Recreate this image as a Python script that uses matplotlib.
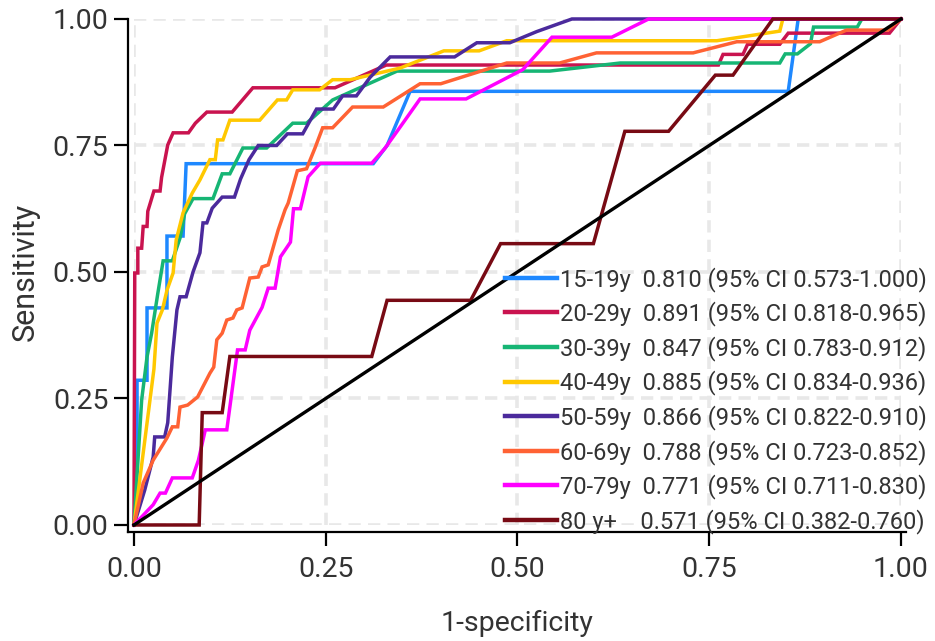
import matplotlib
matplotlib.use('Agg')

from matplotlib import pyplot as plt
import numpy as np


# ROC curves (1-specificity, sensitivity)
groups = ['15-19y', '20-29y', '30-39y', '40-49y', '50-59y', '60-69y', '70-79y', '80 y+']
auc = [0.810, 0.891, 0.847, 0.885, 0.866, 0.788, 0.771, 0.571]
ci_lo = [0.573, 0.818, 0.783, 0.834, 0.822, 0.723, 0.711, 0.382]
ci_hi = [1.000, 0.965, 0.912, 0.936, 0.910, 0.852, 0.830, 0.760]

fpr_15_19 = [0, 0.004, 0.004, 0.017, 0.017, 0.043, 0.043, 0.064, 0.068, 0.312,
             0.33, 0.36, 0.853, 0.866, 1.0]
tpr_15_19 = [0, 0.143, 0.286, 0.286, 0.429, 0.429, 0.571, 0.571, 0.714, 0.714,
             0.75, 0.857, 0.857, 1.0, 1.0]

fpr_20_29 = [0, 0.001, 0.005, 0.005, 0.010, 0.012, 0.017, 0.018, 0.026, 0.034,
             0.036, 0.044, 0.051, 0.071, 0.080, 0.095, 0.128, 0.155, 0.262, 0.329,
             0.762, 0.768, 0.794, 0.800, 0.842, 0.853, 0.985, 1.0]
tpr_20_29 = [0, 0.498, 0.498, 0.547, 0.547, 0.590, 0.590, 0.620, 0.660, 0.660,
             0.687, 0.751, 0.775, 0.775, 0.794, 0.816, 0.816, 0.864, 0.864, 0.909,
             0.909, 0.930, 0.930, 0.950, 0.950, 0.972, 0.972, 1.0]

fpr_30_39 = [0, 0.010, 0.017, 0.023, 0.031, 0.038, 0.050, 0.060, 0.066, 0.077,
             0.103, 0.115, 0.125, 0.142, 0.173, 0.207, 0.225, 0.259, 0.343, 0.542,
             0.634, 0.842, 0.849, 0.865, 0.882, 0.886, 0.943, 0.949, 1.0]
tpr_30_39 = [0, 0.247, 0.332, 0.379, 0.457, 0.522, 0.522, 0.567, 0.615, 0.645,
             0.645, 0.694, 0.694, 0.745, 0.745, 0.794, 0.794, 0.840, 0.897, 0.897,
             0.913, 0.913, 0.931, 0.931, 0.951, 0.984, 0.984, 1.0, 1.0]

fpr_40_49 = [0, 0.026, 0.030, 0.037, 0.043, 0.051, 0.055, 0.064, 0.076, 0.086,
             0.099, 0.106, 0.109, 0.116, 0.125, 0.164, 0.187, 0.199, 0.207, 0.242,
             0.259, 0.282, 0.347, 0.404, 0.450, 0.486, 0.760, 0.842, 0.846, 1.0]
tpr_40_49 = [0, 0.308, 0.399, 0.425, 0.464, 0.498, 0.563, 0.617, 0.656, 0.682,
             0.722, 0.722, 0.761, 0.761, 0.800, 0.800, 0.840, 0.840, 0.860, 0.860,
             0.880, 0.880, 0.903, 0.937, 0.937, 0.957, 0.957, 0.976, 1.0, 1.0]

fpr_50_59 = [0, 0.014, 0.025, 0.027, 0.040, 0.044, 0.050, 0.056, 0.060, 0.068,
             0.077, 0.086, 0.090, 0.095, 0.102, 0.115, 0.131, 0.139, 0.150, 0.162,
             0.186, 0.200, 0.220, 0.238, 0.260, 0.272, 0.290, 0.308, 0.334, 0.418,
             0.447, 0.490, 0.525, 0.571, 1.0]
tpr_50_59 = [0, 0.069, 0.134, 0.174, 0.174, 0.202, 0.332, 0.425, 0.451, 0.451,
             0.500, 0.538, 0.597, 0.597, 0.626, 0.648, 0.648, 0.684, 0.722, 0.750,
             0.750, 0.773, 0.773, 0.822, 0.822, 0.848, 0.848, 0.885, 0.925, 0.925,
             0.953, 0.953, 0.975, 1.0, 1.0]

fpr_60_69 = [0, 0.012, 0.025, 0.043, 0.050, 0.057, 0.060, 0.070, 0.083, 0.099,
             0.104, 0.108, 0.115, 0.121, 0.129, 0.134, 0.141, 0.151, 0.162, 0.167,
             0.175, 0.188, 0.197, 0.201, 0.213, 0.225, 0.236, 0.246, 0.259, 0.285,
             0.325, 0.373, 0.400, 0.486, 0.555, 0.603, 0.729, 0.786, 0.894, 0.929,
             0.983, 1.0]
tpr_60_69 = [0, 0.083, 0.128, 0.172, 0.194, 0.194, 0.233, 0.237, 0.253, 0.300,
             0.312, 0.366, 0.379, 0.405, 0.409, 0.425, 0.429, 0.488, 0.490, 0.510,
             0.514, 0.583, 0.623, 0.636, 0.700, 0.704, 0.745, 0.785, 0.785, 0.826,
             0.826, 0.872, 0.872, 0.913, 0.913, 0.933, 0.933, 0.955, 0.955, 0.978,
             0.978, 1.0]

fpr_70_79 = [0, 0.025, 0.034, 0.041, 0.050, 0.076, 0.084, 0.093, 0.121, 0.135,
             0.145, 0.151, 0.167, 0.175, 0.184, 0.191, 0.204, 0.208, 0.217, 0.227,
             0.243, 0.310, 0.327, 0.344, 0.373, 0.433, 0.507, 0.545, 0.623, 0.671,
             1.0]
tpr_70_79 = [0, 0.040, 0.063, 0.063, 0.093, 0.093, 0.128, 0.188, 0.188, 0.346,
             0.346, 0.385, 0.430, 0.468, 0.468, 0.530, 0.559, 0.625, 0.625, 0.688,
             0.715, 0.715, 0.744, 0.780, 0.842, 0.842, 0.900, 0.964, 0.964, 1.0,
             1.0]

fpr_80 = [0, 0.085, 0.089, 0.115, 0.125, 0.310, 0.330, 0.439, 0.478, 0.599,
          0.640, 0.697, 0.758, 0.781, 0.833, 1.0]
tpr_80 = [0, 0, 0.222, 0.222, 0.333, 0.333, 0.444, 0.444, 0.556, 0.556,
          0.778, 0.778, 0.889, 0.889, 1.0, 1.0]

fprs = [fpr_15_19, fpr_20_29, fpr_30_39, fpr_40_49,
        fpr_50_59, fpr_60_69, fpr_70_79, fpr_80]
tprs = [tpr_15_19, tpr_20_29, tpr_30_39, tpr_40_49,
        tpr_50_59, tpr_60_69, tpr_70_79, tpr_80]

colors = ['#1E88FF', '#C9134F', '#16B574', '#FFC800',
          '#4B2A9C', '#FF6234', '#FF00FF', '#780A14']

TEXT = '#333333'


def main():
    plt.rcParams['font.family'] = ['Roboto', 'DejaVu Sans']

    fig = plt.figure(figsize=(9.35, 6.41), dpi=100)
    ax = fig.add_axes([0.1433, 0.181, 0.8203, 0.7894])

    for g, a, lo, hi, x, y, c in zip(groups, auc, ci_lo, ci_hi, fprs, tprs, colors):
        pad = ' ' * (2 + 2 * (6 - len(g)))
        label = '{}{}{:.3f} (95% CI {:.3f}-{:.3f})'.format(g, pad, a, lo, hi)
        ax.plot(x, y, color=c, lw=2.5, label=label, clip_on=False,
                solid_joinstyle='miter')

    # reference line
    ax.plot([0, 1], [0, 1], color='black', lw=2.4, clip_on=False)

    ax.set_xlim(0, 1)
    ax.set_ylim(0, 1)
    ticks = [0, 0.25, 0.5, 0.75, 1.0]
    ax.set_xticks(ticks)
    ax.set_yticks(ticks)
    ax.set_xticklabels(['{:.2f}'.format(t) for t in ticks])
    ax.set_yticklabels(['{:.2f}'.format(t) for t in ticks])

    ax.grid(True, color='#E8E8E8', lw=2.6, linestyle=(0, (3.4, 2.0)))
    ax.set_axisbelow(True)

    for s in ['top', 'right']:
        ax.spines[s].set_visible(False)
    ax.spines['left'].set_position(('outward', 4.3))
    ax.spines['bottom'].set_position(('outward', 5))
    ax.spines['left'].set_bounds(-0.014, 1)
    ax.spines['bottom'].set_bounds(-0.008, 1.006)
    for s in ['left', 'bottom']:
        ax.spines[s].set_linewidth(1.6)
        ax.spines[s].set_color('black')

    ax.tick_params(axis='both', length=10, width=1.6, colors='black',
                   labelcolor=TEXT, labelsize=20.5)
    ax.tick_params(axis='x', pad=7)
    ax.tick_params(axis='y', pad=4)

    ax.set_xlabel('1-specificity', fontsize=20.5, color=TEXT, labelpad=20)
    ax.set_ylabel('Sensitivity', fontsize=22, color=TEXT, labelpad=9)

    leg = fig.legend(loc='upper left', bbox_to_anchor=(0.540, 0.584),
                     frameon=False, fontsize=17, handlelength=2.2,
                     handletextpad=0.15, labelspacing=0.41, borderpad=0,
                     borderaxespad=0)
    for line in leg.get_lines():
        line.set_linewidth(3.2)
    for t in leg.get_texts():
        t.set_color(TEXT)

    fig.savefig('out.png', dpi=100)


if __name__ == '__main__':
    main()
